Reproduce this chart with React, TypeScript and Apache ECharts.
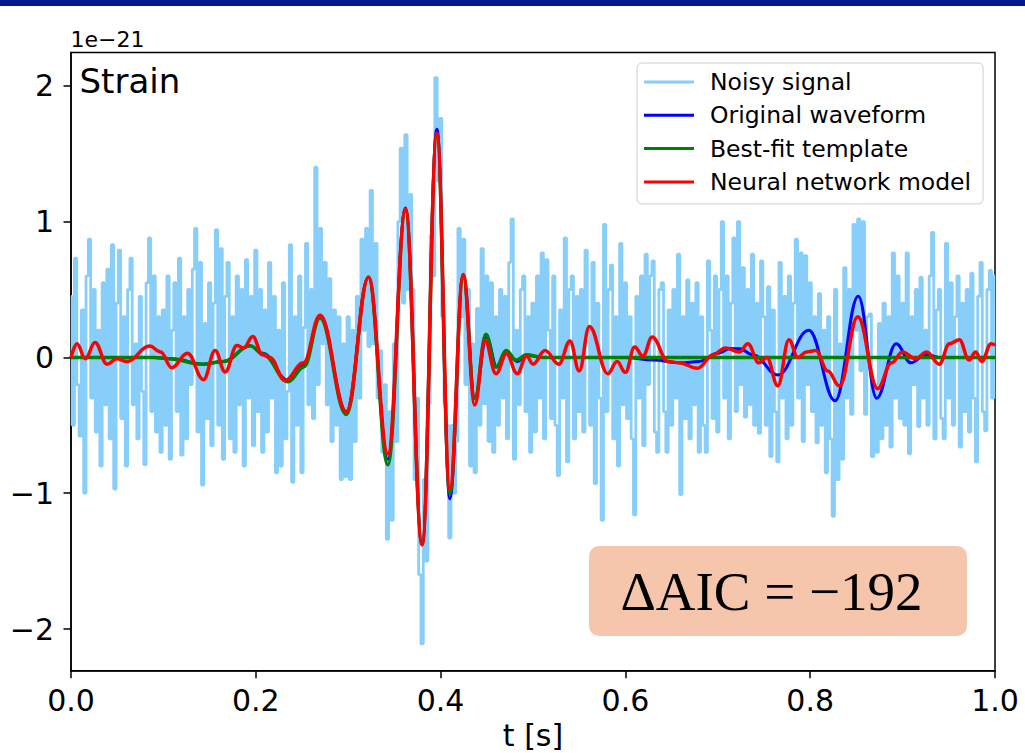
import React, { useEffect, useRef } from "react";
import * as echarts from "echarts";

// ---------- data ----------
const X_TICKS = [0, 0.2, 0.4, 0.6, 0.8, 1.0];
const Y_TICKS = [-2, -1, 0, 1, 2];
const X_MIN = 0;
const X_MAX = 1;
const Y_MIN = -2.307;
const Y_MAX = 2.245;
const Y_EXPONENT_LABEL = "1e\u221221";

const SERIES_NAMES = [
  "Noisy signal",
  "Original waveform",
  "Best-fit template",
  "Neural network model",
];

// noisy strain, sampled every NOISE_DT seconds from t = 0
const NOISE_DT = 0.0025;
const noisySignal = [
  0.45, -0.5, 0.73, -0.2, -0.58, 0.35, -1.0, 0.6, 0.87, -0.3, 0.5, -0.55, 0.2, -0.8, 0.55, -0.35, 0.65, -0.6, 0.83, -0.97,
  0.4, 0.79, -0.45, 0.3, -0.8, 0.5, 0.73, -0.35, 0.1, -0.6, 0.45, -0.25, -0.79, 0.55, 0.88, -0.4, 0.6, -0.55, 0.3, -0.7,
  0.35, -0.5, 0.6, -0.75, 0.2, 0.55, -0.4, 0.73, -0.72, 0.3, -0.6, 0.5, -0.2, 0.65, 0.95, -0.55, 0.7, -0.94, 0.25, -0.45,
  0.55, -0.65, 0.4, 0.94, -0.5, 0.8, -0.75, 0.45, 0.7, -0.6, 0.3, -0.7, 0.6, -0.35, 0.5, -0.8, 0.72, -0.3, 0.45, -0.65,
  0.79, -0.4, 0.5, -0.7, 0.35, -0.55, 0.7, -0.3, 0.45, -0.85, 0.2, -0.8, 0.55, -0.6, -0.25, 0.83, -0.92, 0.3, -0.5, 0.6,
  -0.85, 0.22, 0.84, -0.35, 0.5, -0.45, 1.4, -0.2, 0.95, 0.1, 0.7, -0.35, 0.58, -0.62, 0.35, -0.5, 0.3, -0.9, 0.1, -0.88,
  0.3, -0.9, 0.2, -0.62, 0.45, -0.3, 0.87, 0.2, 0.95, 0.08, 1.23, 0.1, 0.84, -0.3, 0.05, -0.7, -0.2, -1.34, -0.4, -1.2,
  0.1, -0.62, 1.0, 1.54, 0.4, 1.64, 0.5, 1.2, 0.5, -0.9, -0.3, -1.6, -2.11, -0.9, -1.5, -0.34, 0.9, 0.6, 2.06, 1.3,
  1.76, 0.3, -0.34, -0.5, -1.33, -0.5, -1.0, -0.62, 0.95, 0.3, 0.87, -0.2, 0.5, -0.8, 0.1, -0.85, 0.36, -0.5, 0.8, -0.34,
  0.6, -0.62, 0.55, -0.7, 0.3, -0.5, 0.5, -0.3, 0.45, -0.6, 0.7, 1.02, -0.75, 0.2, -0.35, 0.5, 0.6, -0.4, 0.3, -0.7,
  0.4, -0.55, 0.6, -0.3, 0.77, -0.6, 0.72, 0.2, -0.45, 0.6, -0.5, -0.87, 0.35, -0.3, 0.88, -0.77, 0.5, 0.6, -0.6, 0.45,
  -0.4, 0.5, -0.55, 0.79, 0.2, -0.5, 0.7, -0.93, 0.4, -0.3, -1.2, 0.98, -0.4, 0.5, 0.68, -0.6, 0.3, -0.8, 0.84, -0.35,
  0.55, -0.45, 0.3, -0.6, -1.16, 0.45, -0.3, 0.6, -0.65, 0.76, -0.2, 0.6, 0.71, -0.55, -0.7, 0.5, 0.55, -0.4, -0.7, 0.35,
  -0.5, 0.5, -0.3, 0.76, -1.01, 0.3, -0.45, 0.57, -0.6, 0.4, -0.35, 0.55, -0.7, 0.3, -0.5, -0.7, 0.71, 0.2, -0.45, 0.6,
  -0.55, 0.5, 1.0, -0.3, 0.6, -0.6, 0.4, 0.88, -0.4, 1.0, -0.2, 0.66, -0.44, 0.5, -0.35, 0.76, -0.5, 0.4, -0.56, 0.71,
  0.3, -0.5, 0.52, -0.73, 0.35, -0.4, -0.77, 0.7, -0.3, 0.45, -0.6, 0.6, -0.5, 0.4, 0.87, -0.3, 0.77, -0.62, 0.75, -0.2,
  0.55, -0.4, 0.3, -0.63, 0.47, -0.5, 0.2, -0.85, 0.3, -0.6, -1.17, 0.5, -0.9, 0.1, -0.75, 0.66, -0.3, 0.5, -0.42, 0.98,
  0.2, 1.02, -0.1, 1.0, -0.42, 0.3, 0.32, -0.73, -0.2, -0.7, 0.25, -0.6, 0.4, -0.5, 0.3, -0.66, 0.77, -0.3, 0.6, -0.45,
  0.4, -0.5, 0.77, -0.71, 0.3, -0.2, 0.5, -0.51, 0.59, -0.3, 0.2, -0.5, 0.6, 0.92, -0.6, 0.35, 0.5, -0.45, -0.6, 0.84,
  -0.3, 0.55, -0.5, 0.3, 0.6, -0.66, 0.4, -0.4, 0.5, -0.55, 0.62, -0.3, -0.77, 0.45, 0.7, -0.4, -0.54, 0.5, 0.64, -0.3, 0.6,
];

// original waveform (blue)
const originalT = [
  0.0, 0.05, 0.09, 0.11, 0.143, 0.165, 0.194, 0.2075, 0.235, 0.252, 0.2695, 0.298, 0.322, 0.343, 0.362, 0.38, 0.396,
  0.41, 0.4245, 0.437, 0.4497, 0.461, 0.4713, 0.4829, 0.493, 0.51, 0.6, 0.63, 0.66, 0.68, 0.7, 0.7135, 0.7235, 0.738,
  0.765, 0.7985, 0.827, 0.852, 0.872, 0.893, 0.909, 0.925, 0.94, 1.0,
];
const originalV = [
  0.0, 0.0, 0.0, -0.01, -0.05, -0.03, 0.085, 0.03, -0.17, -0.05, 0.3, -0.4, 0.59, -0.75, 1.1, -1.37, 1.68,
  -1.04, 0.61, -0.3, 0.15, -0.07, 0.04, -0.03, 0.015, 0.0, 0.0, -0.02, -0.04, -0.03, 0.03, 0.065, 0.064, 0.02,
  -0.13, 0.2, -0.32, 0.45, -0.3, 0.1, -0.04, 0.02, 0.0, 0.0,
];

// best-fit template (green)
const templateT = [
  0.0, 0.09, 0.105, 0.143, 0.165, 0.194, 0.2075, 0.235, 0.252, 0.2695, 0.298, 0.322, 0.343, 0.362, 0.38, 0.396, 0.41,
  0.4245, 0.437, 0.449, 0.46, 0.471, 0.482, 0.493, 0.51, 1.0,
];
const templateV = [
  0.0, 0.0, -0.01, -0.05, -0.03, 0.085, 0.025, -0.18, -0.07, 0.29, -0.42, 0.59, -0.79, 1.08, -1.37, 1.64, -1.0,
  0.6, -0.3, 0.17, -0.07, 0.05, -0.02, 0.02, 0.0, 0.0,
];

// neural network model (red)
const networkT = [
  0.0, 0.0065, 0.0155, 0.026, 0.039, 0.0497, 0.0605, 0.085, 0.097, 0.109, 0.126, 0.1434, 0.156, 0.1668, 0.1795, 0.1868,
  0.1967, 0.207, 0.215, 0.2317, 0.2515, 0.2695, 0.298, 0.322, 0.343, 0.362, 0.38, 0.396, 0.41, 0.4245, 0.437, 0.448,
  0.46, 0.4713, 0.4829, 0.493, 0.5, 0.513, 0.528, 0.54, 0.55, 0.561, 0.581, 0.591, 0.6, 0.61, 0.619, 0.629, 0.646,
  0.658, 0.678, 0.695, 0.708, 0.7235, 0.7325, 0.7445, 0.753, 0.765, 0.777, 0.7866, 0.796, 0.806, 0.819, 0.8317, 0.8515,
  0.873, 0.888, 0.9, 0.914, 0.926, 0.9398, 0.9506, 0.9614, 0.972, 0.979, 0.9856, 0.9957, 1.0,
];
const networkV = [
  0.0, 0.1, -0.01, 0.11, -0.05, -0.01, -0.03, 0.083, 0.04, -0.076, 0.03, -0.164, 0.05, -0.108, 0.088, 0.07,
  0.154, 0.02, 0.0, -0.17, -0.04, 0.31, -0.4, 0.59, -0.71, 1.09, -1.38, 1.65, -0.97, 0.61, -0.35, 0.125,
  -0.12, 0.027, -0.12, 0.01, -0.05, 0.05, -0.05, 0.12, -0.1, 0.228, -0.12, -0.03, -0.11, 0.076, 0.01, 0.15, -0.03,
  -0.04, -0.08, 0.02, 0.07, 0.04, 0.1, -0.04, 0.0, -0.21, 0.13, 0.0, 0.04, 0.05, -0.1, -0.21, 0.3,
  -0.23, -0.04, 0.04, -0.01, 0.04, -0.05, 0.1, 0.13, -0.02, 0.04, -0.03, 0.1, 0.09,
];

const ANNOTATION = "\u0394AIC = \u2212192";
const PANEL_LABEL = "Strain";
const X_LABEL = "t [s]";

// ---------- styles ----------
const SANS = "'DejaVu Sans', 'Noto Sans', sans-serif";
const SERIF = "'Liberation Serif', 'DejaVu Serif', serif";
const COLORS = ["#87CEFA", "#0000FF", "#008000", "#FF0000"];

const pairUp = (t: number[], v: number[]) => t.map((x, i) => [x, v[i]]);

export default function App() {
  const ref = useRef<HTMLDivElement>(null);

  useEffect(() => {
    if (!ref.current) return;
    const chart = echarts.init(ref.current, null, { renderer: "svg", width: 1025, height: 753 });

    const noisyData = noisySignal.map((v, i) => [Number((i * NOISE_DT).toFixed(4)), v]);
    const fmtY = (v: number) => (v < 0 ? "\u2212" + Math.abs(v) : String(v));

    chart.setOption({
      animation: false,
      backgroundColor: "#ffffff",
      grid: {
        left: 71,
        right: 30,
        top: 52.5,
        bottom: 82.3,
        containLabel: false,
        outerBoundsMode: "none",
        show: true,
        borderColor: "#000",
        borderWidth: 1.5,
        backgroundColor: "transparent",
      },
      xAxis: {
        type: "value",
        min: X_MIN,
        max: X_MAX,
        interval: 0.2,
        splitLine: { show: false },
        axisLine: { show: true, onZero: false, lineStyle: { color: "#000", width: 1.5 } },
        axisTick: { show: true, length: 7.5, lineStyle: { color: "#000", width: 1.5 }, customValues: X_TICKS },
        axisLabel: {
          customValues: X_TICKS,
          formatter: (v: number) => v.toFixed(1),
          fontSize: 30,
          fontFamily: SANS,
          color: "#000",
          margin: 15,
          showMinLabel: true,
          showMaxLabel: true,
        },
        name: X_LABEL,
        nameLocation: "middle",
        nameGap: 45,
        nameTextStyle: { fontSize: 30, fontFamily: SANS, color: "#000" },
      },
      yAxis: {
        type: "value",
        min: Y_MIN,
        max: Y_MAX,
        splitLine: { show: false },
        axisLine: { show: true, onZero: false, lineStyle: { color: "#000", width: 1.5 } },
        axisTick: { show: true, length: 7.5, lineStyle: { color: "#000", width: 1.5 }, customValues: Y_TICKS },
        axisLabel: {
          customValues: Y_TICKS,
          formatter: fmtY,
          fontSize: 30,
          fontFamily: SANS,
          color: "#000",
          margin: 17,
        },
      },
      legend: {
        orient: "vertical",
        left: 637,
        top: 63,
        data: SERIES_NAMES,
        icon: "rect",
        itemWidth: 50,
        itemHeight: 3,
        itemGap: 9.3,
        padding: [7, 12, 10, 7],
        backgroundColor: "rgba(255,255,255,0.8)",
        borderColor: "#cccccc",
        borderWidth: 1,
        borderRadius: 5,
        textStyle: { fontSize: 23.5, lineHeight: 24, fontFamily: SANS, color: "#000", padding: [0, 0, 0, 11] },
        z: 20,
      },
      graphic: [
        { type: "rect", shape: { x: 0, y: 0, width: 1025, height: 6 }, style: { fill: "#00188F" }, z: 100 },
        {
          type: "text",
          x: 70.5,
          y: 39,
          style: { text: Y_EXPONENT_LABEL, font: `22px ${SANS}`, fill: "#000", textAlign: "left", textVerticalAlign: "middle" },
          z: 100,
        },
        {
          type: "text",
          x: 79.5,
          y: 81,
          style: { text: PANEL_LABEL, font: `34px ${SANS}`, fill: "#000", textAlign: "left", textVerticalAlign: "middle" },
          z: 100,
        },
        {
          type: "rect",
          shape: { x: 589, y: 546, width: 378, height: 90, r: 10 },
          style: { fill: "#F5C6AC" },
          z: 100,
        },
        {
          type: "text",
          x: 771.5,
          y: 591.7,
          style: { text: ANNOTATION, font: `55px ${SERIF}`, fill: "#000", textAlign: "center", textVerticalAlign: "middle" },
          z: 101,
        },
      ],
      series: [
        {
          name: SERIES_NAMES[0],
          type: "line",
          data: noisyData,
          showSymbol: false,
          symbol: "none",
          step: "middle",
          lineStyle: { color: COLORS[0], width: 2.8 },
          itemStyle: { color: COLORS[0] },
          z: 2,
        },
        {
          name: SERIES_NAMES[1],
          type: "line",
          data: pairUp(originalT, originalV),
          showSymbol: false,
          symbol: "none",
          smooth: 0.4,
          smoothMonotone: "x",
          lineStyle: { color: COLORS[1], width: 3 },
          itemStyle: { color: COLORS[1] },
          z: 3,
        },
        {
          name: SERIES_NAMES[2],
          type: "line",
          data: pairUp(templateT, templateV),
          showSymbol: false,
          symbol: "none",
          smooth: 0.4,
          smoothMonotone: "x",
          lineStyle: { color: COLORS[2], width: 3.5 },
          itemStyle: { color: COLORS[2] },
          z: 4,
        },
        {
          name: SERIES_NAMES[3],
          type: "line",
          data: pairUp(networkT, networkV),
          showSymbol: false,
          symbol: "none",
          smooth: 0.4,
          smoothMonotone: "x",
          lineStyle: { color: COLORS[3], width: 3.5 },
          itemStyle: { color: COLORS[3] },
          z: 5,
        },
      ],
    });

    return () => chart.dispose();
  }, []);

  return (
    <div
      ref={ref}
      style={{ position: "fixed", left: 0, top: 0, width: 1025, height: 753, background: "#fff" }}
    />
  );
}
